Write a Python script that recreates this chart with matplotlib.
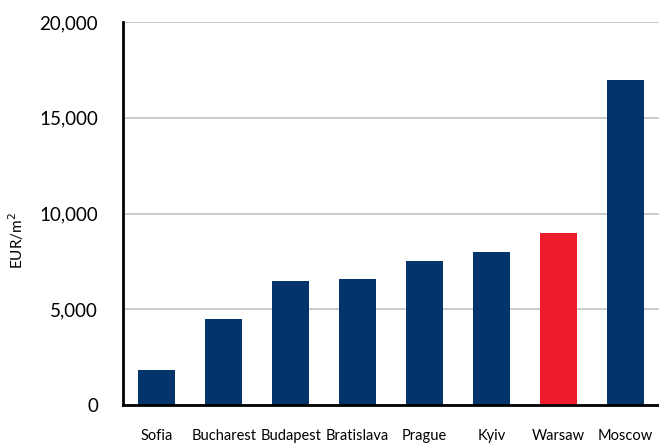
import matplotlib
matplotlib.use("Agg")
import matplotlib.pyplot as plt
from matplotlib.ticker import FuncFormatter

cities = ["Sofia", "Bucharest", "Budapest", "Bratislava", "Prague", "Kyiv", "Warsaw", "Moscow"]
prices = [1800, 4500, 6500, 6600, 7500, 8000, 9000, 17000]
highlight = "Warsaw"
yticks = [0, 5000, 10000, 15000, 20000]

navy = "#03356A"
red = "#ED1C2B"
colors = [red if c == highlight else navy for c in cities]

plt.rcParams["font.family"] = ["Lato", "DejaVu Sans"]

fig = plt.figure(figsize=(6.59, 4.43), dpi=100)
ax = fig.add_axes([0.187, 0.086, 0.813, 0.864])

x = list(range(len(cities)))
ax.bar(x, prices, width=0.56, color=colors, zorder=3)

ax.set_xlim(-0.5, len(cities) - 0.5)
ax.set_ylim(0, 20000)
ax.set_yticks(yticks)
ax.yaxis.set_major_formatter(FuncFormatter(lambda v, p: f"{int(v):,}"))
ax.set_xticks(x)
ax.set_xticklabels(cities, fontsize=10.5)

ax.grid(axis="y", color="#C8C8C8", linewidth=1.3, zorder=0)
ax.tick_params(axis="y", length=0, pad=18, labelsize=13.5)
ax.tick_params(axis="x", length=0, pad=17)

for side in ("top", "right"):
    ax.spines[side].set_visible(False)
for side in ("left", "bottom"):
    ax.spines[side].set_linewidth(2)
    ax.spines[side].set_color("black")
    ax.spines[side].set_zorder(4)

ax.set_ylabel("EUR/m$^2$", fontsize=11)
ax.yaxis.set_label_coords(-0.182, 0.43)

fig.savefig("out.png", dpi=100)
